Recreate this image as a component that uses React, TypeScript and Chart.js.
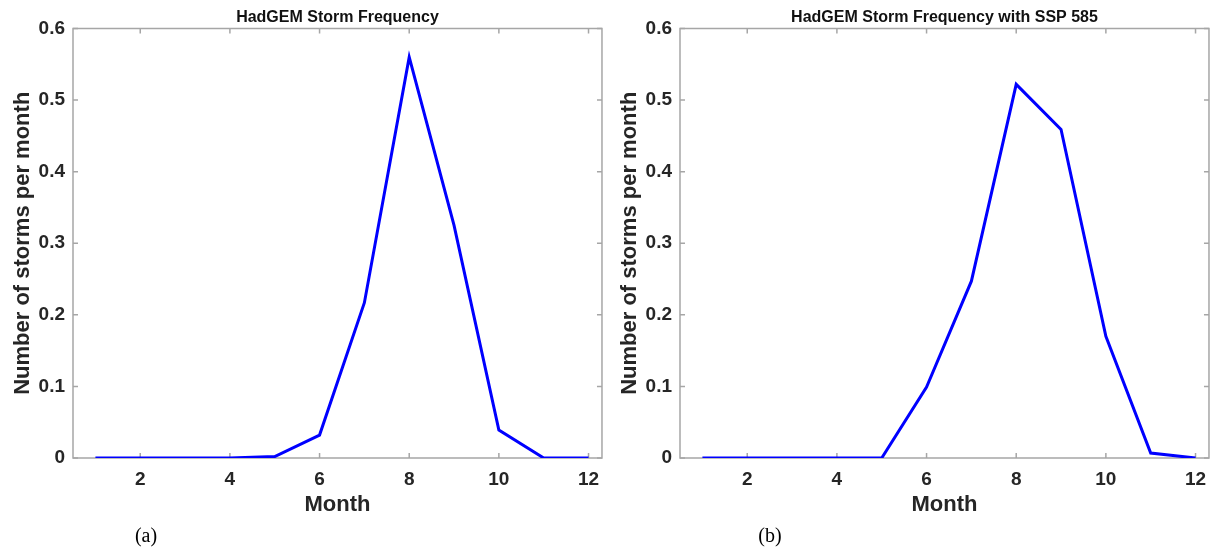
import React, { useEffect, useRef } from 'react';
import { Chart, registerables } from 'chart.js';

Chart.register(...registerables);

// ---- data ----
const months = [1, 2, 3, 4, 5, 6, 7, 8, 9, 10, 11, 12];
const hadgemFreq = [0, 0, 0, 0, 0.002, 0.032, 0.217, 0.56, 0.325, 0.039, 0, 0];
const ssp585Freq = [0, 0, 0, 0, 0, 0.099, 0.247, 0.522, 0.459, 0.17, 0.007, 0];
const xTicks = [2, 4, 6, 8, 10, 12];
const yTicks = [0, 0.1, 0.2, 0.3, 0.4, 0.5, 0.6];
const panelTitles = ['HadGEM Storm Frequency', 'HadGEM Storm Frequency with SSP 585'];
const xAxisTitle = 'Month';
const yAxisTitle = 'Number of storms per month';
const panelLabels = ['(a)', '(b)'];

const FONT = '"Liberation Sans", Arial, Helvetica, sans-serif';
const TEXT = '#262626';
const AXIS = '#a6a6a6';

const boxPlugin = {
  id: 'matlabBox',
  beforeDatasetsDraw(chart: any) {
    const { ctx, chartArea: a, scales } = chart;
    const x = scales.x;
    const y = scales.y;
    ctx.save();
    ctx.strokeStyle = AXIS;
    ctx.lineWidth = 1.5;
    ctx.strokeRect(a.left, a.top, a.right - a.left, a.bottom - a.top);
    ctx.beginPath();
    const L = 5;
    for (const v of xTicks) {
      const px = x.getPixelForValue(v);
      ctx.moveTo(px, a.bottom);
      ctx.lineTo(px, a.bottom - L);
      ctx.moveTo(px, a.top);
      ctx.lineTo(px, a.top + L);
    }
    for (const v of yTicks) {
      const py = y.getPixelForValue(v);
      ctx.moveTo(a.left, py);
      ctx.lineTo(a.left + L, py);
      ctx.moveTo(a.right, py);
      ctx.lineTo(a.right - L, py);
    }
    ctx.stroke();
    ctx.restore();
  },
};

function Panel({ values, title }: { values: number[]; title: string }) {
  const ref = useRef<HTMLCanvasElement | null>(null);
  useEffect(() => {
    if (!ref.current) return;
    const chart = new Chart(ref.current, {
      type: 'line',
      data: {
        datasets: [
          {
            data: months.map((m, i) => ({ x: m, y: values[i] })),
            borderColor: '#0000ff',
            borderWidth: 3,
            pointRadius: 0,
            tension: 0,
            fill: false,
          },
        ],
      },
      options: {
        animation: false,
        responsive: false,
        maintainAspectRatio: false,
        layout: { padding: { left: 0, right: 3, top: 0, bottom: 0 } },
        plugins: {
          legend: { display: false },
          tooltip: { enabled: false },
          title: {
            display: true,
            text: title,
            fullSize: false,
            color: '#111',
            font: { family: FONT, size: 16, weight: 'bold', lineHeight: 1.2 },
            padding: { top: 8, bottom: 1.3 },
          },
        },
        scales: {
          x: {
            type: 'linear',
            min: 0.5,
            max: 12.3,
            grid: { display: false, drawTicks: false },
            border: { display: false },
            afterBuildTicks: (s: any) => {
              s.ticks = xTicks.map((v) => ({ value: v }));
            },
            afterFit: (s: any) => {
              s.height = 92;
            },
            ticks: {
              autoSkip: false,
              maxRotation: 0,
              padding: 10.7,
              color: TEXT,
              font: { family: FONT, size: 19, weight: 'bold', lineHeight: 1.2 },
              callback: (v: any) => String(v),
            },
            title: {
              display: true,
              text: xAxisTitle,
              color: TEXT,
              font: { family: FONT, size: 22, weight: 'bold', lineHeight: 1.2 },
              padding: { top: 0, bottom: 32 },
            },
          },
          y: {
            type: 'linear',
            min: 0,
            max: 0.6,
            grid: { display: false, drawTicks: false },
            border: { display: false },
            afterBuildTicks: (s: any) => {
              s.ticks = yTicks.map((v) => ({ value: v }));
            },
            afterFit: (s: any) => {
              s.width = 73;
            },
            ticks: {
              padding: 8,
              color: TEXT,
              font: { family: FONT, size: 19, weight: 'bold', lineHeight: 1.2 },
              callback: (v: any) => String(Number(Number(v).toFixed(1))),
            },
            title: {
              display: true,
              text: yAxisTitle,
              color: TEXT,
              font: { family: FONT, size: 22, weight: 'bold', lineHeight: 1.2 },
              padding: { top: 10, bottom: 0 },
            },
          },
        },
      },
      plugins: [boxPlugin],
    });
    return () => chart.destroy();
  }, [values, title]);
  return <canvas ref={ref} width={610} height={550} style={{ display: 'block', width: 610, height: 550 }} />;
}

export default function App() {
  return (
    <div
      style={{
        position: 'fixed',
        left: 0,
        top: 0,
        width: 1217,
        height: 550,
        background: '#fff',
        overflow: 'hidden',
      }}
    >
      <div style={{ position: 'absolute', left: 0, top: 0 }}>
        <Panel values={hadgemFreq} title={panelTitles[0]} />
      </div>
      <div style={{ position: 'absolute', left: 607, top: 0 }}>
        <Panel values={ssp585Freq} title={panelTitles[1]} />
      </div>
      <div
        style={{
          position: 'absolute',
          left: 146,
          top: 535,
          transform: 'translate(-50%, -50%)',
          fontFamily: '"Liberation Serif", "Times New Roman", serif',
          fontSize: 20,
          color: '#000',
          whiteSpace: 'nowrap',
          lineHeight: 1,
        }}
      >
        {panelLabels[0]}
      </div>
      <div
        style={{
          position: 'absolute',
          left: 770,
          top: 535,
          transform: 'translate(-50%, -50%)',
          fontFamily: '"Liberation Serif", "Times New Roman", serif',
          fontSize: 20,
          color: '#000',
          whiteSpace: 'nowrap',
          lineHeight: 1,
        }}
      >
        {panelLabels[1]}
      </div>
    </div>
  );
}
